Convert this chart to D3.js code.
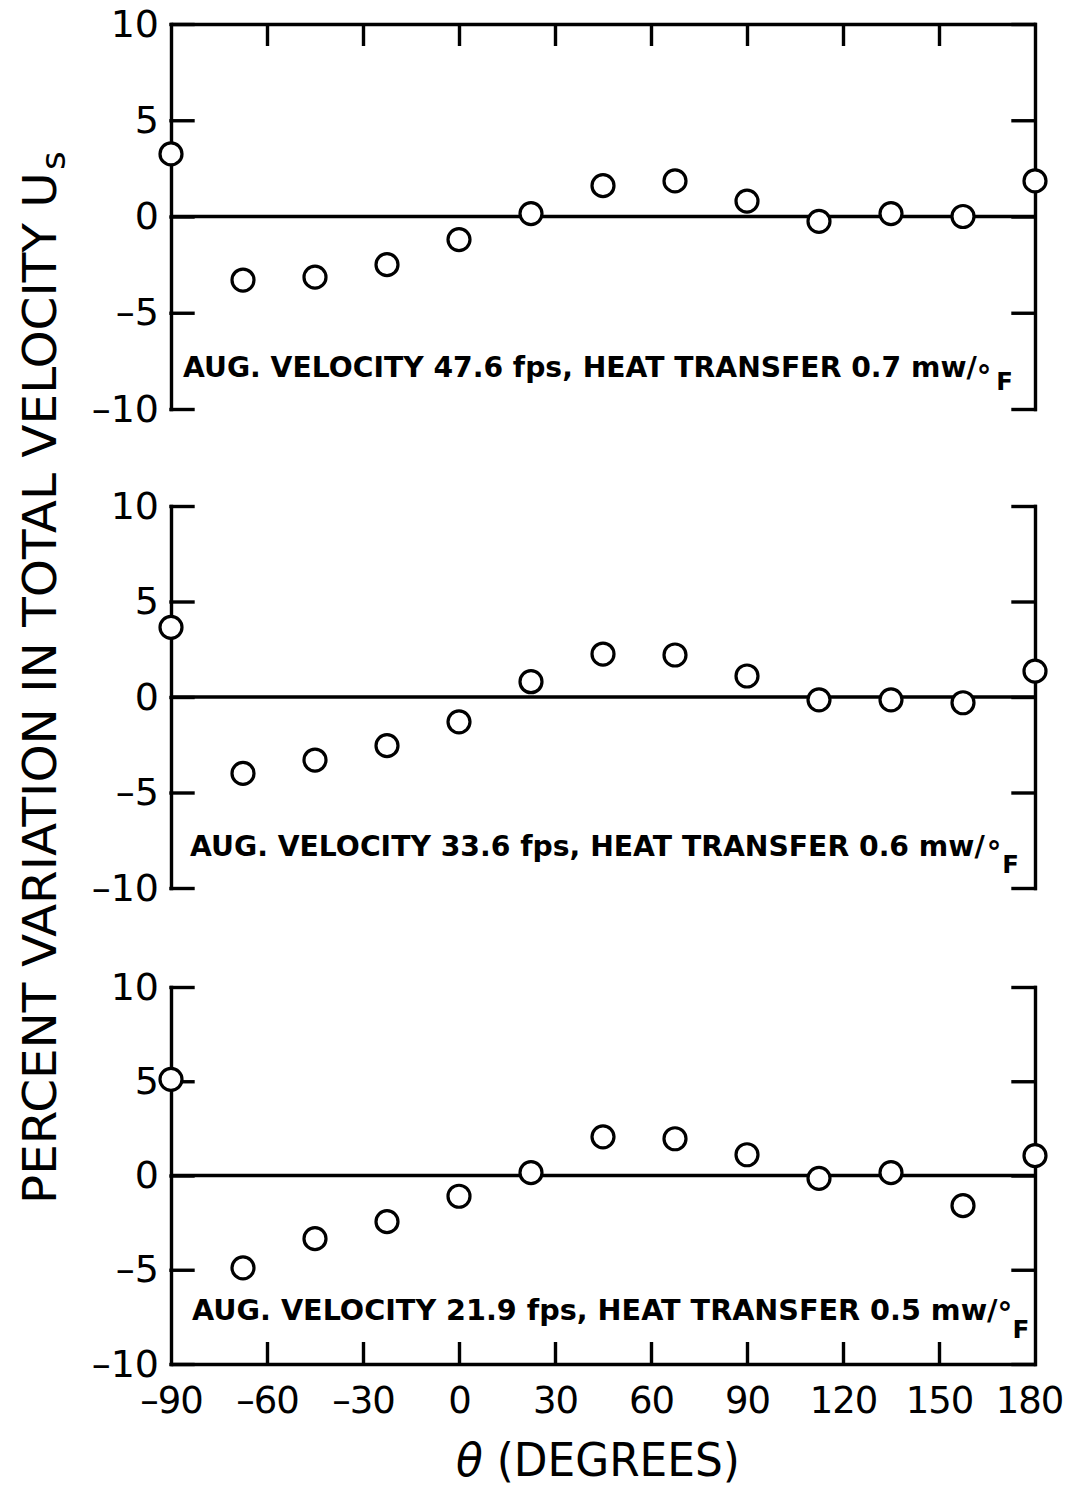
<!DOCTYPE html>
<html>
<head>
<meta charset="utf-8">
<script src="https://cdn.jsdelivr.net/npm/d3@7/dist/d3.min.js"></script>
<style>
  html, body { margin: 0; padding: 0; background: #fff; }
  svg { display: block; }
  text { fill: #000; font-family: "DejaVu Sans", sans-serif; }
</style>
</head>
<body>
<script>
// Angular stations around the cylinder (degrees)
const theta = [-90, -67.5, -45, -22.5, 0, 22.5, 45, 67.5, 90, 112.5, 135, 157.5, 180];

// Percent variation in total velocity Us at each station
const us476 = [3.25, -3.3, -3.15, -2.5, -1.2, 0.15, 1.6, 1.85, 0.8, -0.25, 0.15, 0, 1.85];
const us336 = [3.65, -4.0, -3.3, -2.55, -1.3, 0.8, 2.25, 2.2, 1.1, -0.15, -0.15, -0.3, 1.35];
const us219 = [5.1, -4.9, -3.35, -2.45, -1.1, 0.15, 2.05, 1.95, 1.1, -0.15, 0.15, -1.6, 1.05];

// Panel captions
const avgVelocity = ["47.6", "33.6", "21.9"];
const heatTransfer = ["0.7", "0.6", "0.5"];

// Axis ticks
const xTicks = [-90, -60, -30, 0, 30, 60, 90, 120, 150, 180];
const xInnerTicks = [-60, -30, 0, 30, 60, 90, 120, 150];
const yTicks = [-10, -5, 0, 5, 10];

const W = 1069, H = 1492;
const svg = d3.select("body").append("svg").attr("width", W).attr("height", H);

const left = 171, right = 1035;
const x = d3.scaleLinear().domain([-90, 180]).range([left, right]);

const LW = 3.4;
const dash = d => (d < 0 ? "\u2013" + Math.abs(d) : String(d));

// squeeze a text element horizontally so that `ref` spans `target` px
function fitWidth(sel, ref, tx, ty, target, extra) {
  const w = ref.node().getComputedTextLength();
  const k = target / w;
  sel.attr("transform", `translate(${tx},${ty})${extra || ""} scale(${k},1)`);
}

const panels = [
  { vals: us476, top: 24, bottom: 409, frameTop: true, frameBottom: false,
    cap: { x: 183, y: 377, len: 794, degDx: 0, degDy: 10, fDx: 5, fDy: 3 } },
  { vals: us336, top: 506, bottom: 888, frameTop: false, frameBottom: false,
    cap: { x: 190, y: 856, len: 795, degDx: 2, degDy: 7, fDx: 1, fDy: 10 } },
  { vals: us219, top: 987, bottom: 1364, frameTop: false, frameBottom: true,
    cap: { x: 192, y: 1320, len: 806, degDx: 0, degDy: 4, fDx: 0, fDy: 14 } }
];

panels.forEach((p, i) => {
  const y = d3.scaleLinear().domain([-10, 10]).range([p.bottom, p.top]);
  const g = svg.append("g");

  // left axis with inward ticks and labels
  const la = g.append("g").attr("transform", `translate(${x(-90)},0)`)
    .call(d3.axisLeft(y).tickValues(yTicks).tickSize(-22).tickSizeOuter(0)
      .tickPadding(12).tickFormat(dash));
  // right axis, ticks only
  const ra = g.append("g").attr("transform", `translate(${x(180)},0)`)
    .call(d3.axisRight(y).tickValues(yTicks).tickSize(-22).tickSizeOuter(0)
      .tickFormat(""));

  [la, ra].forEach(a => {
    a.selectAll("path, line").attr("stroke", "#000").attr("stroke-width", LW)
      .attr("stroke-linecap", "square");
    a.selectAll("text").style("font-size", "38px").attr("fill", "#000")
      .style("font-family", '"DejaVu Sans", sans-serif');
  });

  if (p.frameTop) {
    const ta = g.append("g").attr("transform", `translate(0,${y(10)})`)
      .call(d3.axisTop(x).tickValues(xInnerTicks).tickSize(-22).tickSizeOuter(0)
        .tickFormat(""));
    ta.selectAll("path, line").attr("stroke", "#000").attr("stroke-width", LW);
  }
  if (p.frameBottom) {
    const ba = g.append("g").attr("transform", `translate(0,${y(-10)})`)
      .call(d3.axisBottom(x).tickValues(xTicks).tickSize(-22).tickSizeOuter(0)
        .tickPadding(23).tickFormat(dash));
    ba.selectAll("path, line").attr("stroke", "#000").attr("stroke-width", LW);
    ba.selectAll(".tick").filter(d => d === -90 || d === 180).select("line").remove();
    ba.selectAll("text").style("font-size", "37px").attr("fill", "#000")
      .style("letter-spacing", "-1px")
      .style("font-family", '"DejaVu Sans", sans-serif');
    ba.selectAll(".tick").filter(d => d === 180).select("text").attr("dx", -6);
  }

  // zero reference line
  g.append("line")
    .attr("x1", x(-90)).attr("x2", x(180))
    .attr("y1", y(0)).attr("y2", y(0))
    .attr("stroke", "#000").attr("stroke-width", LW);

  // data points: open circles
  g.selectAll("circle.pt").data(theta.map((t, k) => [t, p.vals[k]]))
    .join("circle").attr("class", "pt")
    .attr("cx", d => x(d[0])).attr("cy", d => y(d[1]))
    .attr("r", 11).attr("fill", "#fff")
    .attr("stroke", "#000").attr("stroke-width", 3.2);

  // caption with the °F unit set as raised ring + lowered F
  const c = p.cap;
  const t = g.append("text").attr("x", 0).attr("y", 0)
    .style("font-size", "29px").style("font-weight", "bold");
  const main = t.append("tspan")
    .text(`AUG. VELOCITY ${avgVelocity[i]} fps, HEAT TRANSFER ${heatTransfer[i]} mw/`);
  t.append("tspan").attr("dx", c.degDx).attr("dy", c.degDy)
    .style("font-size", "30px").text("\u00b0");
  t.append("tspan").attr("dx", c.fDx).attr("dy", c.fDy)
    .style("font-size", "25px").text("F");
  fitWidth(t, main, c.x, c.y, c.len);
});

// y-axis title (rotated)
const yt = svg.append("g").attr("transform", "translate(56,1204) rotate(-90)");
const ytt = yt.append("text").attr("x", 0).attr("y", 0).style("font-size", "46px");
const ytMain = ytt.append("tspan").text("PERCENT VARIATION IN TOTAL VELOCITY U");
ytt.append("tspan").attr("dx", 2).attr("dy", 9).style("font-size", "34px").text("s");
fitWidth(ytt, ytMain, 0, 0, 1032);

// x-axis title
const xt = svg.append("text").attr("x", 0).attr("y", 0).style("font-size", "46px");
xt.append("tspan").style("font-style", "italic").text("\u03b8");
xt.append("tspan").text(" (DEGREES)");
fitWidth(xt, xt, 456, 1476, 284);
</script>
</body>
</html>
